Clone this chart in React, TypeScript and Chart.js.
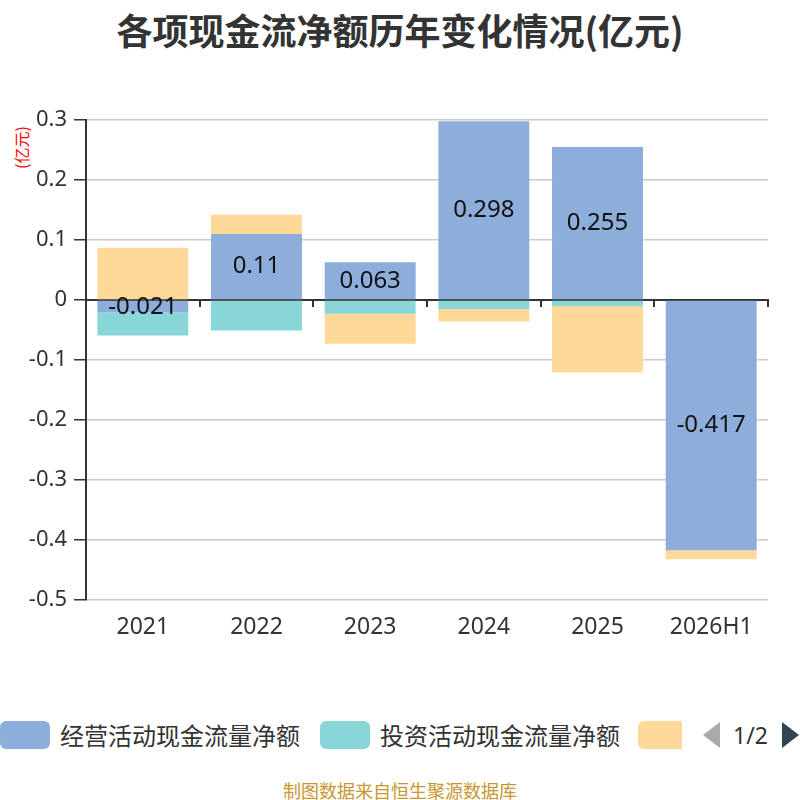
import React from "react";
import Chart from "chart.js/auto";

const years = ["2021", "2022", "2023", "2024", "2025", "2026H1"];
const operating = [-0.021, 0.11, 0.063, 0.298, 0.255, -0.417];
const investing = [-0.038, -0.051, -0.023, -0.015, -0.01, 0];
const financing = [0.087, 0.032, -0.05, -0.021, -0.111, -0.015];
const seriesNames = ["经营活动现金流量净额", "投资活动现金流量净额", "筹资活动现金流量净额"];
const seriesColors = ["#8DADDA", "#88D6D8", "#FED99A"];

const FONT = "'Noto Sans', 'Noto Sans CJK SC', sans-serif";
const CJK = "'Noto Sans CJK SC', sans-serif";

// draws the blue series values in the middle of each bar
const valueLabels = {
    id: "valueLabels",
    afterDatasetsDraw(chart: any) {
        const ctx = chart.ctx;
        const meta = chart.getDatasetMeta(0);
        ctx.save();
        ctx.font = `24px ${FONT}`;
        ctx.fillStyle = "#111";
        ctx.textAlign = "center";
        ctx.textBaseline = "middle";
        meta.data.forEach((bar: any, i: number) => {
            const mid = (bar.y + bar.base) / 2;
            ctx.fillText(String(operating[i]), bar.x, mid);
        });
        ctx.restore();
    },
};

export default function App() {
    const canvasRef = React.useRef<HTMLCanvasElement | null>(null);

    React.useEffect(() => {
        document.body.style.margin = "0";
        if (!canvasRef.current) return;
        const datasets = [operating, investing, financing].map((values, i) => ({
            label: seriesNames[i],
            data: values,
            backgroundColor: seriesColors[i],
            borderWidth: 0,
            categoryPercentage: 1,
            barPercentage: 0.8,
        }));
        const chart = new Chart(canvasRef.current, {
            type: "bar",
            data: { labels: years, datasets },
            plugins: [valueLabels],
            options: {
                responsive: false,
                animation: false,
                layout: { padding: { top: 120, right: 32, bottom: 30, left: 0 } },
                plugins: {
                    legend: { display: false },
                    tooltip: { enabled: false },
                },
                scales: {
                    x: {
                        stacked: true,
                        grid: { display: false },
                        border: { display: false },
                        ticks: { color: "#333", font: { size: 23, family: FONT }, padding: 6 },
                        afterFit: (scale: any) => { scale.height = 50; },
                    },
                    zero: {
                        type: "category",
                        axis: "x",
                        position: { y: 0 },
                        grid: { drawOnChartArea: false, drawTicks: true, tickLength: 6, offset: true, color: "#333", lineWidth: 2 },
                        border: { display: true, color: "#333", width: 2 },
                        ticks: { display: false },
                    },
                    y: {
                        stacked: true,
                        min: -0.5,
                        max: 0.3,
                        ticks: {
                            stepSize: 0.1,
                            color: "#333",
                            font: { size: 22, family: FONT },
                            padding: 7,
                            callback: (v: any) => {
                                const n = Math.round(Number(v) * 10) / 10;
                                return n === 0 ? "0" : n.toFixed(1);
                            },
                        },
                        grid: { color: "#ccc", lineWidth: 1.5, tickColor: "#333", tickLength: 12 },
                        border: { display: true, color: "#333", width: 2 },
                        afterFit: (scale: any) => { scale.width = 86; },
                    },
                },
            } as any,
        });
        return () => chart.destroy();
    }, []);

    const box = (color: string, width = 50) => (
        <span style={{ display: "inline-block", width, height: 28, background: color, borderRadius: 6 }} />
    );

    return (
        <div style={{ position: "relative", width: 800, height: 800, fontFamily: FONT, overflow: "hidden", background: "#fff" }}>
            <div style={{ position: "absolute", top: 3, left: 0, width: 800, textAlign: "center", fontSize: 36, fontWeight: "bold", color: "#333", fontFamily: CJK }}>
                各项现金流净额历年变化情况(亿元)
            </div>
            <div style={{ position: "absolute", left: 13, top: 169, color: "#f00", fontSize: 16, lineHeight: 1, transform: "rotate(-90deg)", transformOrigin: "left top", whiteSpace: "nowrap", fontFamily: CJK }}>
                (亿元)
            </div>
            <canvas ref={canvasRef} width={800} height={680} style={{ position: "absolute", top: 0, left: 0 }} />
            <div style={{ position: "absolute", top: 721, left: 0, width: 800, height: 28, fontSize: 24, lineHeight: "28px", color: "#333", fontFamily: CJK }}>
                <div style={{ position: "absolute", left: 0, top: 0, display: "flex", alignItems: "center", gap: 10 }}>
                    {box(seriesColors[0])}<span>{seriesNames[0]}</span>
                </div>
                <div style={{ position: "absolute", left: 320, top: 0, display: "flex", alignItems: "center", gap: 10 }}>
                    {box(seriesColors[1])}<span>{seriesNames[1]}</span>
                </div>
                <div style={{ position: "absolute", left: 638, top: 0, width: 44, height: 28, overflow: "hidden" }}>
                    {box(seriesColors[2])}
                </div>
                <div style={{ position: "absolute", left: 703, top: 1, width: 0, height: 0, borderTop: "13px solid transparent", borderBottom: "13px solid transparent", borderRight: "17px solid #aaa" }} />
                <div style={{ position: "absolute", left: 733, top: 0, fontSize: 23, fontFamily: FONT }}>1/2</div>
                <div style={{ position: "absolute", left: 782, top: 1, width: 0, height: 0, borderTop: "13px solid transparent", borderBottom: "13px solid transparent", borderLeft: "17px solid #2F4554" }} />
            </div>
            <div style={{ position: "absolute", top: 777, left: 0, width: 800, textAlign: "center", fontSize: 18, color: "#C8962E", fontFamily: CJK }}>
                制图数据来自恒生聚源数据库
            </div>
        </div>
    );
}
